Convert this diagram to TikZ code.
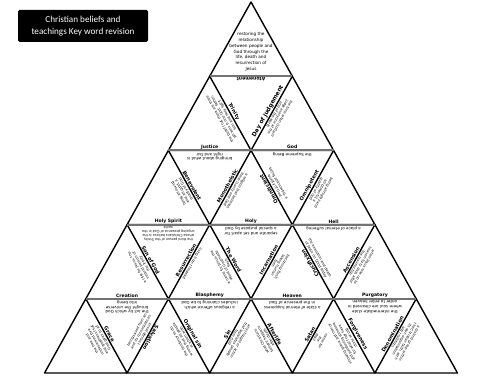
\documentclass[tikz,border=0pt]{standalone}
\usepackage{fontspec}
\setmainfont{DejaVu Sans}
\newfontfamily\titlefont{Carlito}
\usetikzlibrary{calc}

\newcommand\kwfont{\fontsize{13}{15}\selectfont\bfseries}
\newcommand\slantfont{\fontsize{14.5}{16}\selectfont\bfseries}
\newcommand\sidefont{\fontsize{10}{12}\selectfont}
\newcommand\topfont{\fontsize{11.5}{13.5}\selectfont}

\tikzset{
  edge/.style={line width=1.4mm, line join=round},
  seam/.style={line width=2mm, black!55},
  kw/.style={midway, sloped, allow upside down, anchor=south, inner xsep=0pt, inner ysep=1.4mm, font=\kwfont},
  kws/.style={kw, font=\slantfont},
  sidedef/.style={midway, sloped, allow upside down, anchor=south, inner xsep=0pt, inner ysep=1.8mm, align=center, font=\sidefont},
  topdef/.style={sidedef, font=\topfont},
}

\begin{document}
\begin{tikzpicture}[x=1mm,y=1mm]
  \useasboundingbox (0,0) rectangle (500,375);
  % corners of the pieces
  \foreach \r in {0,...,5}
    \foreach \k in {0,...,\r}
      \coordinate (p\r\k) at ({251+(\k-\r/2)*82.6},{373-\r*74.2});
  % upward pieces, their outlines give every cut
  \foreach \r in {1,...,5}{
    \pgfmathtruncatemacro\rp{\r-1}
    \foreach \k in {1,...,\r}{
      \pgfmathtruncatemacro\kl{\k-1}
      \draw[edge] (p\r\kl) -- (p\r\k) -- (p\rp\kl) -- cycle;
    }
  }
  \foreach \r in {1,...,4} \draw[seam] (p\r0) -- (p\r\r);

  % title
  \fill[black, rounded corners=1.5mm] (18,333) rectangle (148,365);
  \node[font=\titlefont\fontsize{26}{35}\selectfont, text=white, align=center] (title) at (83,349) {Christian beliefs and\\teachings Key word revision};

  % row 1
  \node[font=\fontsize{12}{16.5}\selectfont, align=center] (datonement) at (251,323) {restoring the\\relationship\\between people and\\God through the\\life, death and\\resurrection of\\Jesus};
  % row 2
  \path (p20) -- (p21) node[kw] (kjustice) {Justice};
  \path (p21) -- (p10) node[sidedef] (dtrinity) {the belief that there are three\\persons in one God: Father,\\Son and Holy Spirit};
  \path (p11) -- (p10) node[kw] (katonement) {Atonement};
  \path (p10) -- (p21) node[kws] (ktrinity) {Trinity};
  \path (p21) -- (p11) node[kws, font=\fontsize{16.5}{18}\selectfont\bfseries] (kjudgement) {Day of judgement};
  \path (p21) -- (p22) node[kw] (kgod) {God};
  \path (p11) -- (p21) node[sidedef] (djudgement) {the time when God will\\judge everyone at the\\end of the world};
  % row 3
  \path (p30) -- (p31) node[kw] (kspirit) {Holy Spirit};
  \path (p31) -- (p20) node[sidedef] (dbenevolent) {being all-loving\\and all-good, a\\quality of God};
  \path (p21) -- (p20) node[topdef] (djustice) {bringing about what is\\right and fair};
  \path (p20) -- (p31) node[kws] (kbenevolent) {Benevolent};
  \path (p31) -- (p21) node[kws] (kmono) {Monotheistic};
  \path (p31) -- (p32) node[kw] (kholy) {Holy};
  \path (p21) -- (p31) node[sidedef] (dmono) {a religion that believes\\there is only one God};
  \path (p32) -- (p21) node[kws] (kscient) {Omniscient};
  \path (p22) -- (p21) node[topdef] (dgod) {the Supreme Being};
  \path (p21) -- (p32) node[sidedef] (dscient) {being all-knowing, a\\quality of God};
  \path (p32) -- (p22) node[kws] (kpotent) {Omnipotent};
  \path (p32) -- (p33) node[kw] (khell) {Hell};
  \path (p22) -- (p32) node[sidedef] (dpotent) {being almighty and\\all-powerful, a\\quality of God};
  % row 4
  \path (p40) -- (p41) node[kw] (kcreation) {Creation};
  \path (p41) -- (p30) node[sidedef] (dson) {a title for Jesus, the\\second person of\\the Trinity};
  \path (p31) -- (p30) node[topdef, font=\fontsize{9.5}{11.5}\selectfont] (dspirit) {the third person of the Trinity\\whose Christians believe is the\\ongoing presence of God in the\\world};
  \path (p30) -- (p41) node[kws] (kson) {Son of God};
  \path (p41) -- (p31) node[kws] (kresurrection) {Resurrection};
  \path (p41) -- (p42) node[kw] (kblasphemy) {Blasphemy};
  \path (p31) -- (p41) node[sidedef] (dresurrection) {rising from the dead};
  \path (p42) -- (p31) node[sidedef] (dword) {a name for Jesus, the\\Word of God made\\flesh};
  \path (p32) -- (p31) node[topdef] (dholy) {separate and set apart for\\a special purpose by God};
  \path (p31) -- (p42) node[kws] (kword) {The Word};
  \path (p42) -- (p32) node[kws] (kincarnation) {Incarnation};
  \path (p42) -- (p43) node[kw] (kheaven) {Heaven};
  \path (p32) -- (p42) node[sidedef] (dincarnation) {becoming flesh,\\taking human\\form};
  \path (p43) -- (p32) node[kws] (kcrucifixion) {Crucifixion};
  \path (p33) -- (p32) node[topdef] (dhell) {a place of eternal suffering};
  \path (p32) -- (p43) node[sidedef] (dcrucifixion) {the execution and death\\of Jesus on Good Friday};
  \path (p43) -- (p33) node[kws] (kascension) {Ascension};
  \path (p43) -- (p44) node[kw] (kpurgatory) {Purgatory};
  \path (p33) -- (p43) node[sidedef] (dascension) {when Jesus rose up to\\heaven forty days after\\the resurrection};
  % row 5
  \path (p51) -- (p40) node[sidedef] (dgrace) {the free and\\undeserved love\\and goodness that\\God gives to all};
  \path (p41) -- (p40) node[topdef] (dcreation) {the act by which God\\brought the universe\\into being};
  \path (p40) -- (p51) node[kws] (kgrace) {Grace};
  \path (p51) -- (p41) node[sidedef] (dsalvation) {being saved from sin\\and its consequences\\through Jesus};
  \path (p41) -- (p51) node[kws] (ksalvation) {Salvation};
  \path (p52) -- (p41) node[sidedef] (doriginal) {the tendency to do\\wrong that all people\\are born with};
  \path (p42) -- (p41) node[topdef] (dblasphemy) {a religious offence which\\includes claiming to be God};
  \path (p41) -- (p52) node[kws] (koriginal) {Original sin};
  \path (p52) -- (p42) node[kws] (ksin) {Sin};
  \path (p42) -- (p52) node[sidedef] (dsin) {any thought or action\\that separates people\\from God};
  \path (p53) -- (p42) node[sidedef] (dafterlife) {what Christians\\believe happens\\after death};
  \path (p43) -- (p42) node[topdef] (dheaven) {a state of eternal happiness\\in the presence of God};
  \path (p42) -- (p53) node[kws] (kafterlife) {Afterlife};
  \path (p53) -- (p43) node[kws] (ksatan) {Satan};
  \path (p43) -- (p53) node[sidedef] (dsatan) {name for\\the\\devil};
  \path (p54) -- (p43) node[sidedef] (dforgive) {showing grace and mercy\\and pardoning someone\\for what they have\\done wrong};
  \path (p44) -- (p43) node[topdef] (dpurgatory) {the intermediate state\\where soul are cleansed in\\order to enter heaven};
  \path (p43) -- (p54) node[kws] (kforgive) {Forgiveness};
  \path (p54) -- (p44) node[kws] (kdenomination) {Denomination};
  \path (p44) -- (p54) node[sidedef] (ddenomination) {a distinct group within\\the Christian faith, with\\its own organisation\\and traditions};
\end{tikzpicture}
\end{document}
